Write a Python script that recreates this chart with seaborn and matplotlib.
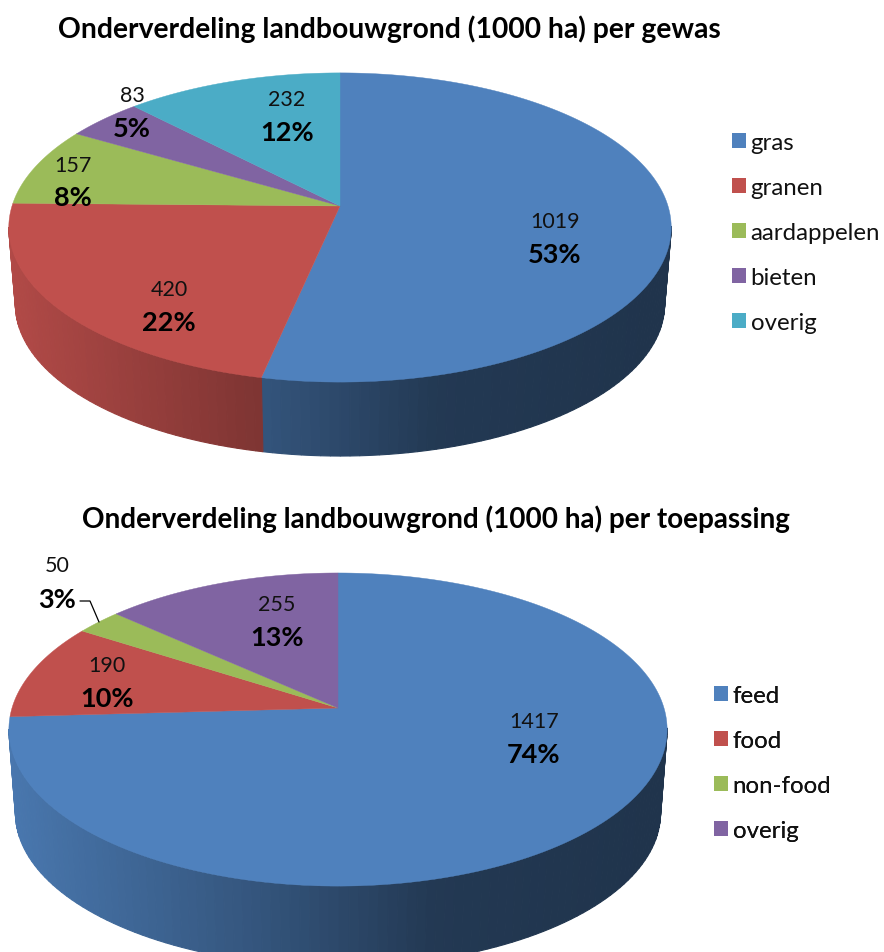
import matplotlib
matplotlib.use("Agg")
import matplotlib.pyplot as plt
import numpy as np
import seaborn as sns
from matplotlib.patches import Patch

crop_names = ["gras", "granen", "aardappelen", "bieten", "overig"]
crop_values = [1019, 420, 157, 83, 232]
crop_pct = ["53%", "22%", "8%", "5%", "12%"]
crop_colors = ["#4f81bd", "#c0504d", "#9bbb59", "#8064a2", "#4bacc6"]

use_names = ["feed", "food", "non-food", "overig"]
use_values = [1417, 190, 50, 255]
use_pct = ["74%", "10%", "3%", "13%"]
use_colors = ["#4f81bd", "#c0504d", "#9bbb59", "#8064a2"]

sns.set_theme(style="white")
plt.rcParams["font.family"] = ["Lato", "DejaVu Sans"]


def project(phi, apex, rx, ry, k, scale=1.0, drop=0.0):
    u = np.cos(np.radians(phi))
    v = np.sin(np.radians(phi))
    d = 1 + k * v
    return apex[0] + scale * rx * u / d, apex[1] - scale * ry * v / d + drop


def shade(color, x_rel):
    f = np.interp(x_rel, [-1, -0.25, 0.3, 1], [0.92, 0.66, 0.44, 0.4])
    return tuple(np.array(matplotlib.colors.to_rgb(color)) * f)


def draw_pie(ax, values, colors, apex, rx, ry, k, drop):
    wedges, _ = ax.pie(values, colors=colors, startangle=90, counterclock=False, frame=True)
    spans = [(w.theta1, w.theta2) for w in wedges]
    for w in wedges:
        w.remove()

    # side wall, thin strips so the shade can run left to right
    for (t1, t2), color in zip(spans, colors):
        edges = np.arange(t1, t2 + 1.5, 1.5)
        edges[-1] = t2
        for a, b in zip(edges[:-1], edges[1:]):
            if np.sin(np.radians((a + b) / 2)) > -k:
                continue
            phi = np.array([a, b])
            x1, y1 = project(phi, apex, rx, ry, k)
            x2, y2 = project(phi[::-1], apex, rx, ry, k, 0.98, drop)
            c = shade(color, (x1.mean() - apex[0]) / rx)
            ax.fill(np.r_[x1, x2], np.r_[y1, y2], color=c, lw=0.8)

    # top surface
    for (t1, t2), color in zip(spans, colors):
        phi = np.linspace(t1, t2, 200)
        x, y = project(phi, apex, rx, ry, k)
        ax.fill(np.r_[apex[0], x], np.r_[apex[1], y], color=color, lw=0.3)


def add_labels(ax, values, pct, value_pos, pct_pos):
    for v, p, vp, pp in zip(values, pct, value_pos, pct_pos):
        ax.text(vp[0], vp[1] + 1.5, str(v), ha="center", va="center", fontsize=15.5, color="#111111")
        ax.text(pp[0], pp[1] + 1, p, ha="center", va="center", fontsize=19.5, fontweight="bold", color="black")


def add_legend(ax, names, colors, anchor):
    handles = [Patch(facecolor=c, edgecolor="none") for c in colors]
    leg = ax.legend(
        handles, names, loc="upper left", bbox_to_anchor=anchor,
        bbox_transform=ax.transData, frameon=False, fontsize=17.3,
        handlelength=0.58, handleheight=0.58, handletextpad=0.2,
        labelspacing=1.0, borderpad=0, borderaxespad=0,
        labelcolor="#111111",
    )
    ax.add_artist(leg)


fig = plt.figure(figsize=(8.84, 9.53), dpi=100)
ax = fig.add_axes([0, 0, 1, 1])

draw_pie(ax, crop_values, crop_colors, (340, 207), 328, 151.6, 0.139, 77.5)
draw_pie(ax, use_values, use_colors, (338, 709), 326, 153.6, 0.1375, 84)

add_labels(
    ax, crop_values, crop_pct,
    [(555, 221), (169, 289), (73, 165), (132, 94), (287, 98)],
    [(555, 254), (169, 322), (73, 197), (132, 128), (287, 132)],
)
add_labels(
    ax, use_values, use_pct,
    [(534, 721), (107, 665), (57, 565), (277, 604)],
    [(534, 754), (107, 698), (57, 599), (277, 637)],
)
ax.plot([80, 90, 99], [602, 602, 623], color="black", lw=0.9)

ax.text(389, 29, "Onderverdeling landbouwgrond (1000 ha) per gewas",
        ha="center", va="center", fontsize=20.3, fontweight="bold", color="black")
ax.text(436, 519, "Onderverdeling landbouwgrond (1000 ha) per toepassing",
        ha="center", va="center", fontsize=20.1, fontweight="bold", color="black")

add_legend(ax, crop_names, crop_colors, (732, 133))
add_legend(ax, use_names, use_colors, (714, 686))

ax.set_xlim(0, 884)
ax.set_ylim(953, 0)
ax.set_aspect("auto")
ax.axis("off")

fig.savefig("out.png", dpi=100)
